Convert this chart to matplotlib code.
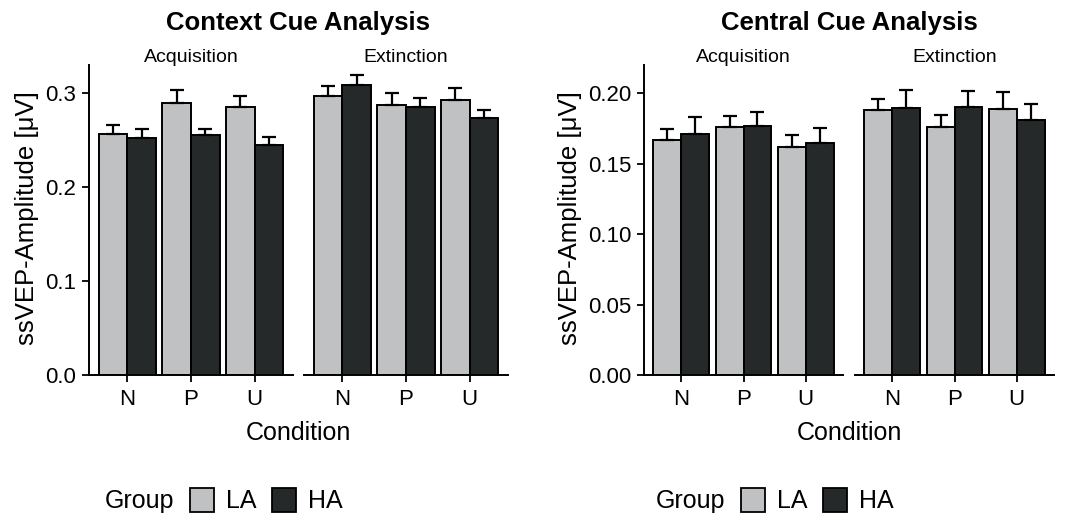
import matplotlib.pyplot as plt
from matplotlib.patches import Rectangle
import numpy as np

plt.rcParams['font.family'] = ['Liberation Sans', 'DejaVu Sans']

conditions = ['N', 'P', 'U']
phases = ['Acquisition', 'Extinction']
groups = ['LA', 'HA']
colors = {'LA': '#c0c1c3', 'HA': '#25292a'}

# Context cue: mean and upper error (mean + se) per phase, group, condition
context_mean = {
    ('Acquisition', 'LA'): [0.2567, 0.2894, 0.2858],
    ('Acquisition', 'HA'): [0.2525, 0.2553, 0.2447],
    ('Extinction', 'LA'): [0.2971, 0.2869, 0.2929],
    ('Extinction', 'HA'): [0.3085, 0.2848, 0.2740],
}
context_upper = {
    ('Acquisition', 'LA'): [0.2660, 0.3032, 0.2970],
    ('Acquisition', 'HA'): [0.2617, 0.2620, 0.2532],
    ('Extinction', 'LA'): [0.3080, 0.3000, 0.3056],
    ('Extinction', 'HA'): [0.3195, 0.2947, 0.2826],
}

# Central cue
central_mean = {
    ('Acquisition', 'LA'): [0.1667, 0.1759, 0.1619],
    ('Acquisition', 'HA'): [0.1709, 0.1764, 0.1648],
    ('Extinction', 'LA'): [0.1880, 0.1757, 0.1891],
    ('Extinction', 'HA'): [0.1898, 0.1900, 0.1811],
}
central_upper = {
    ('Acquisition', 'LA'): [0.1745, 0.1839, 0.1702],
    ('Acquisition', 'HA'): [0.1830, 0.1867, 0.1752],
    ('Extinction', 'LA'): [0.1957, 0.1846, 0.2007],
    ('Extinction', 'HA'): [0.2021, 0.2016, 0.1922],
}

W, H = 1072, 515
fig = plt.figure(figsize=(W / 100, H / 100), dpi=100)


def px_axes(x0, x1, ytop, ybot):
    return fig.add_axes([x0 / W, 1 - ybot / H, (x1 - x0) / W, (ybot - ytop) / H])


def draw_block(panels, means, uppers, ymax, yticks, ylabels, title, title_x, ylab_x, legend_x):
    x = np.arange(1, 4)
    bw = 0.45
    for k, (ph, (x0, x1)) in enumerate(zip(phases, panels)):
        ax = px_axes(x0, x1, 65, 375)
        for g, off in zip(groups, [-bw / 2, bw / 2]):
            m = np.array(means[(ph, g)])
            u = np.array(uppers[(ph, g)])
            ax.bar(x + off, m, width=bw, color=colors[g], edgecolor='black',
                   linewidth=1.4, zorder=2)
            ax.errorbar(x + off, m, yerr=[np.zeros(3), u - m], fmt='none',
                        ecolor='black', elinewidth=1.6, capsize=5, capthick=1.6, zorder=3)
        ax.set_xlim(0.4, 3.6)
        ax.set_ylim(0, ymax)
        ax.set_xticks(x)
        ax.set_xticklabels(conditions, fontsize=16)
        for s in ['top', 'right']:
            ax.spines[s].set_visible(False)
        ax.spines['bottom'].set_linewidth(1.4)
        ax.spines['bottom'].set_zorder(4)
        ax.tick_params(axis='x', length=5, width=1.3, pad=5)
        if k == 0:
            ax.spines['left'].set_linewidth(1.4)
            ax.set_yticks(yticks)
            ax.set_yticklabels(ylabels, fontsize=16)
            ax.tick_params(axis='y', length=5, width=1.3, pad=4)
        else:
            ax.spines['left'].set_visible(False)
            ax.set_yticks([])
        ax.text(0.5, 1.0 + 8 / 310, ph, transform=ax.transAxes, ha='center',
                va='center', fontsize=14)
    mid = (panels[0][0] + panels[1][1]) / 2
    fig.text(title_x / W, 1 - 23 / H, title, ha='center', va='center',
             fontsize=18.5, fontweight='bold')
    fig.text(mid / W, 1 - 433 / H, 'Condition', ha='center', va='center', fontsize=18)
    fig.text(ylab_x / W, 1 - 218 / H, 'ssVEP-Amplitude [μV]', ha='center',
             va='center', rotation=90, fontsize=18.5)
    # legend
    lx = legend_x
    fig.text(lx / W, 1 - 501 / H, 'Group', ha='left', va='center', fontsize=18)
    for g, bx in zip(groups, [lx + 85, lx + 167]):
        fig.add_artist(Rectangle((bx / W, 1 - 512 / H), 24 / W, 24 / H,
                                 facecolor=colors[g], edgecolor='black',
                                 linewidth=1.3, transform=fig.transFigure))
        fig.text((bx + 36) / W, 1 - 501 / H, g, ha='left', va='center', fontsize=18)


draw_block([(89, 293), (304, 508)], context_mean, context_upper, 0.33,
           [0.0, 0.1, 0.2, 0.3], ['0.0', '0.1', '0.2', '0.3'],
           'Context Cue Analysis', 298, 27, 105)
draw_block([(644, 843), (855, 1054)], central_mean, central_upper, 0.22,
           [0.0, 0.05, 0.10, 0.15, 0.20], ['0.00', '0.05', '0.10', '0.15', '0.20'],
           'Central Cue Analysis', 849, 570, 656)

plt.savefig('out.png', dpi=100)
